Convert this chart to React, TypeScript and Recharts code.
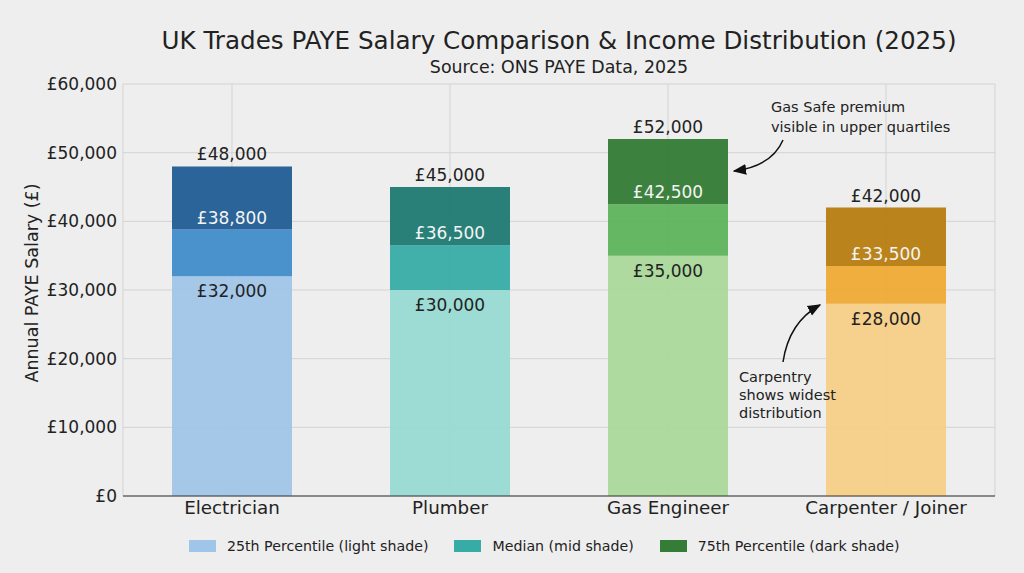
import React from 'react';
import { BarChart, Bar, XAxis, YAxis, CartesianGrid, Cell, LabelList } from 'recharts';

const categories = ['Electrician', 'Plumber', 'Gas Engineer', 'Carpenter / Joiner'];
const p25Values = [32000, 30000, 35000, 28000];
const medianValues = [38800, 36500, 42500, 33500];
const p75Values = [48000, 45000, 52000, 42000];
const yTicks = [0, 10000, 20000, 30000, 40000, 50000, 60000];

const lightColors = ['#9fc5e8', '#96dad2', '#a9d899', '#f6cf86'];
const midColors = ['#3f8cc8', '#37aca6', '#5db35b', '#eeaa34'];
const darkColors = ['#215e94', '#1f7b73', '#357c37', '#b77e12'];

const legendItems = [
  { label: '25th Percentile (light shade)', color: '#9fc5e8' },
  { label: 'Median (mid shade)', color: '#37aca6' },
  { label: '75th Percentile (dark shade)', color: '#357c37' },
];

const rows = categories.map((name, i) => ({
  name,
  p25: p25Values[i],
  medInc: medianValues[i] - p25Values[i],
  topInc: p75Values[i] - medianValues[i],
}));

const FONT = '"DejaVu Sans", sans-serif';
const fmt = (v: number) => '£' + v.toLocaleString('en-GB');

const P25Label = (props: any) => {
  const { x, y, width, index } = props;
  return (
    <text x={x + width / 2} y={y + 15} textAnchor="middle" dominantBaseline="central"
      fontFamily={FONT} fontSize={17} fill="#222">
      {fmt(p25Values[index])}
    </text>
  );
};

const TopLabels = (props: any) => {
  const { x, y, width, height, index } = props;
  return (
    <g>
      <text x={x + width / 2} y={y - 12} textAnchor="middle" dominantBaseline="central"
        fontFamily={FONT} fontSize={17} fill="#222">
        {fmt(p75Values[index])}
      </text>
      <text x={x + width / 2} y={y + height - 12} textAnchor="middle" dominantBaseline="central"
        fontFamily={FONT} fontSize={17} fill="#f4f4f4">
        {fmt(medianValues[index])}
      </text>
    </g>
  );
};

const YLabel = (props: any) => {
  const vb = props.viewBox || {};
  const cy = vb.y + vb.height / 2 - 7;
  return (
    <text x={32} y={cy} transform={`rotate(-90, 32, ${cy})`} textAnchor="middle"
      dominantBaseline="central" fontFamily={FONT} fontSize={17.5} fill="#222">
      Annual PAYE Salary (£)
    </text>
  );
};

export default function App() {
  return (
    <div style={{ position: 'fixed', left: 0, top: 0, width: 1024, height: 573, background: '#eeeeee', fontFamily: FONT }}>
      <BarChart width={1024} height={573} data={rows} barSize={120}
        margin={{ top: 84, right: 29, left: 0, bottom: 42 }}>
        <CartesianGrid stroke="#d3d3d3" strokeWidth={1} vertical horizontal />
        <XAxis dataKey="name" height={35} tickLine={false} tickSize={4} tickMargin={1}
          axisLine={{ stroke: '#333', strokeWidth: 1.2 }}
          tick={{ fontFamily: FONT, fontSize: 18.3, fill: '#222' }} />
        <YAxis width={123} domain={[0, 60000]} ticks={yTicks} tickFormatter={fmt}
          axisLine={false} tickLine={false} tickSize={4} tickMargin={2}
          tick={{ fontFamily: FONT, fontSize: 17, fill: '#222' }}
          label={<YLabel />} />
        <Bar dataKey="p25" stackId="a" fill={legendItems[0].color} fillOpacity={0.93} isAnimationActive={false}>
          {rows.map((r, i) => <Cell key={r.name} fill={lightColors[i]} />)}
          <LabelList dataKey="p25" content={<P25Label />} />
        </Bar>
        <Bar dataKey="medInc" stackId="a" fill={legendItems[1].color} fillOpacity={0.95} isAnimationActive={false}>
          {rows.map((r, i) => <Cell key={r.name} fill={midColors[i]} />)}
        </Bar>
        <Bar dataKey="topInc" stackId="a" fill={legendItems[2].color} fillOpacity={0.96} isAnimationActive={false}>
          {rows.map((r, i) => <Cell key={r.name} fill={darkColors[i]} />)}
          <LabelList dataKey="topInc" content={<TopLabels />} />
        </Bar>
      </BarChart>

      <svg width={1024} height={573} style={{ position: 'absolute', left: 0, top: 0, pointerEvents: 'none' }}>
        <defs>
          <marker id="ah" viewBox="0 0 10 10" refX="9" refY="5" markerWidth="9" markerHeight="9" orient="auto-start-reverse">
            <path d="M0,1 L10,5 L0,9 z" fill="#111" />
          </marker>
        </defs>
        <text x={559} y={40} textAnchor="middle" dominantBaseline="central" fontFamily={FONT} fontSize={24.6} fill="#222">
          UK Trades PAYE Salary Comparison &amp; Income Distribution (2025)
        </text>
        <text x={559} y={67} textAnchor="middle" dominantBaseline="central" fontFamily={FONT} fontSize={17.4} fill="#222">
          Source: ONS PAYE Data, 2025
        </text>

        <text fontFamily={FONT} fontSize={14.5} fill="#222">
          <tspan x={771} y={112}>Gas Safe premium</tspan>
          <tspan x={771} y={132}>visible in upper quartiles</tspan>
        </text>
        <path d="M783,140 Q772,166 734,171" fill="none" stroke="#111" strokeWidth={1.5} markerEnd="url(#ah)" />

        <text fontFamily={FONT} fontSize={14.5} fill="#222">
          <tspan x={739} y={382}>Carpentry</tspan>
          <tspan x={739} y={400}>shows widest</tspan>
          <tspan x={739} y={418}>distribution</tspan>
        </text>
        <path d="M783,362 Q789,322 820,305" fill="none" stroke="#111" strokeWidth={1.5} markerEnd="url(#ah)" />
      </svg>

      <div style={{ position: 'absolute', top: 537, left: 189, display: 'flex', gap: 26, boxSizing: 'border-box' }}>
        {legendItems.map((it) => (
          <div key={it.label} style={{ display: 'flex', alignItems: 'center', height: 18 }}>
            <div style={{ width: 27, height: 12, background: it.color, marginRight: 11 }} />
            <span style={{ fontSize: 14.2, color: '#222', fontFamily: FONT, whiteSpace: 'nowrap' }}>{it.label}</span>
          </div>
        ))}
      </div>
    </div>
  );
}
